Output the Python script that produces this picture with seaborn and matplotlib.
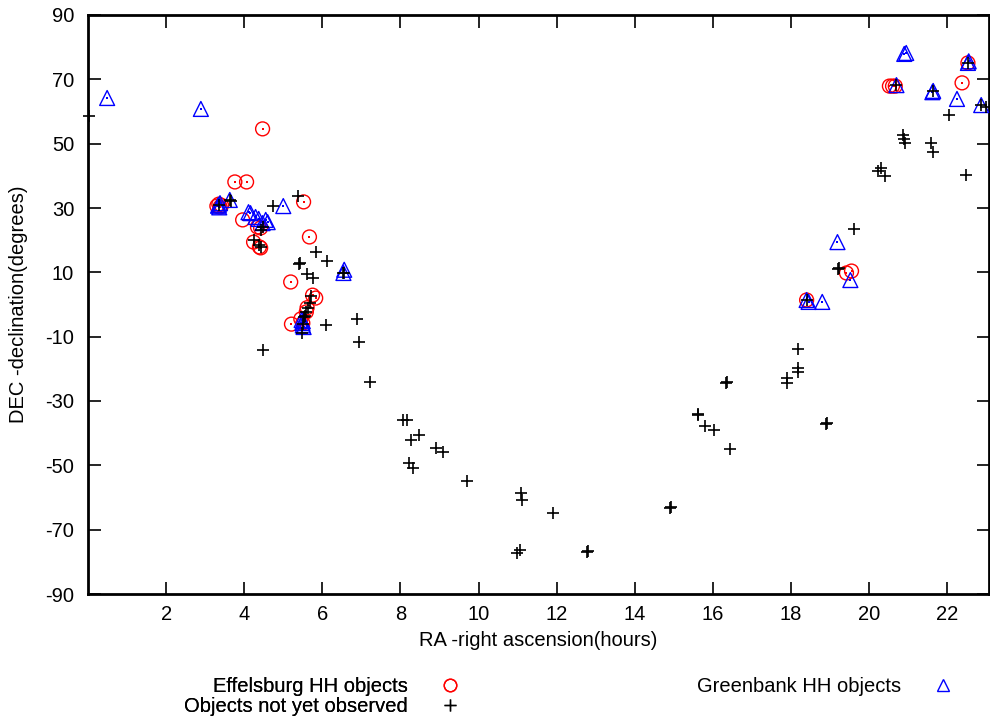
import numpy as np
import pandas as pd
import matplotlib
matplotlib.use("Agg")
import matplotlib.pyplot as plt
from matplotlib.lines import Line2D
import seaborn as sns

# ---- data (RA hours, DEC degrees) ----
eff_ra = [3.30, 3.38, 3.42, 3.35, 3.76, 4.06, 4.47, 5.52, 3.96, 4.34, 4.42, 4.24, 4.39, 4.42,
          5.67, 5.19, 5.75, 5.83, 5.61, 5.59, 5.21, 5.50, 5.45, 20.52, 20.60, 20.67, 22.38,
          22.53, 19.42, 19.55, 18.40]
eff_dec = [30.6, 30.3, 30.8, 31.2, 38.1, 38.1, 54.6, 31.9, 26.3, 24.1, 23.8, 19.4, 17.9, 17.6,
           21.0, 7.0, 2.9, 2.0, -1.0, -2.3, -6.1, -5.8, -4.5, 67.9, 67.9, 67.9, 68.9,
           75.1, 9.8, 10.4, 1.4]

gb_ra = [0.49, 2.89, 3.35, 3.38, 3.33, 3.36, 3.63, 4.11, 4.16, 4.29, 4.37, 4.55, 4.60, 4.47,
         5.00, 6.54, 6.56, 5.49, 5.50, 5.47, 5.52, 5.50, 19.19, 19.52, 18.40, 18.45, 18.80,
         20.90, 20.95, 20.70, 21.64, 21.62, 22.25, 22.53, 22.55, 22.87]
gb_dec = [64.2, 60.8, 31.0, 31.5, 30.7, 30.2, 32.5, 28.7, 28.4, 27.2, 26.6, 26.3, 25.6, 25.3,
          30.6, 9.8, 10.8, -5.8, -6.5, -4.8, -7.0, -5.2, 19.4, 7.6, 1.4, 0.8, 0.8,
          77.9, 78.2, 68.2, 66.4, 66.0, 63.9, 75.1, 75.6, 62.0]

new_ra = [0.02, 3.65, 3.35, 4.73, 5.37, 4.42, 4.24, 4.39, 4.42, 5.85, 6.13, 5.42, 5.40, 5.62,
          5.75, 6.56, 5.72, 5.68, 5.64, 5.59, 5.55, 5.49, 6.10, 6.90, 6.95, 4.47, 7.23, 8.07,
          8.18, 8.28, 8.48, 8.23, 8.33, 8.92, 9.10, 9.71, 11.09, 11.11, 11.91, 10.99, 11.06,
          12.77, 12.79, 14.90, 14.92, 15.61, 15.63, 15.80, 16.02, 16.33, 16.36, 16.43, 17.91,
          17.91, 18.17, 18.19, 18.19, 18.90, 18.92, 19.62, 19.21, 19.23, 18.40, 20.87, 20.92,
          20.90, 21.59, 21.64, 20.31, 20.23, 20.41, 22.48, 22.05, 20.70, 21.64, 22.53, 22.87,
          23.00, 3.63, 4.47, 6.54, 5.50, 5.52]
new_dec = [58.6, 32.2, 31.0, 30.6, 33.7, 23.2, 20.0, 18.5, 18.0, 16.3, 13.5, 12.9, 12.6, 9.5,
           8.2, 9.8, 2.6, 0.4, -1.1, -2.3, -3.5, -8.9, -6.4, -4.5, -11.7, -14.1, -24.1, -35.9,
           -35.9, -42.1, -40.6, -49.3, -50.8, -44.6, -45.9, -54.9, -58.6, -60.8, -64.8, -77.2, -76.3,
           -76.9, -76.6, -63.3, -63.0, -34.3, -34.0, -37.8, -39.0, -24.4, -24.0, -44.9, -22.8,
           -24.4, -19.7, -21.0, -13.8, -37.1, -36.8, 23.5, 11.0, 11.2, 1.4, 52.7, 50.2,
           51.5, 50.2, 47.4, 42.4, 41.5, 39.9, 40.3, 58.9, 68.2, 66.4, 75.1, 62.0,
           61.4, 32.5, 24.0, 9.8, -6.0, -4.0]

labels = ["Effelsburg HH objects", "Greenbank HH objects", "Objects not yet observed"]
x_ticks = [2, 4, 6, 8, 10, 12, 14, 16, 18, 20, 22]
y_ticks = [-90, -70, -50, -30, -10, 10, 30, 50, 70, 90]

eff = pd.DataFrame({"ra": eff_ra, "dec": eff_dec})
gb = pd.DataFrame({"ra": gb_ra, "dec": gb_dec})
new = pd.DataFrame({"ra": new_ra, "dec": new_dec})

sns.set_theme(style="white")
plt.rcParams["font.family"] = ["Liberation Sans", "DejaVu Sans"]
plt.rcParams["text.color"] = "black"
plt.rcParams["axes.labelcolor"] = "black"
plt.rcParams["xtick.color"] = "black"
plt.rcParams["ytick.color"] = "black"
FS = 14.5

fig = plt.figure(figsize=(9.9, 7.22), dpi=100)
ax = fig.add_axes([88 / 990, 1 - 594 / 722, 1 - 88 / 990 - 0.001, (594 - 15) / 722])

sns.scatterplot(data=eff, x="ra", y="dec", ax=ax, marker="o", s=100,
                facecolors="none", edgecolor="#ff0000", linewidth=1.0, clip_on=False, zorder=3)
sns.scatterplot(data=eff, x="ra", y="dec", ax=ax, marker="s", s=1.5,
                color="#ff0000", linewidth=0, clip_on=False, zorder=3)
sns.scatterplot(data=gb, x="ra", y="dec", ax=ax, marker="^", s=115,
                facecolors="none", edgecolor="#0000ff", linewidth=1.0, clip_on=False, zorder=4)
sns.scatterplot(data=gb, x="ra", y="dec", ax=ax, marker="s", s=1.5,
                color="#0000ff", linewidth=0, clip_on=False, zorder=4)
sns.scatterplot(data=new, x="ra", y="dec", ax=ax, marker="+", s=80,
                color="black", linewidth=1.2, clip_on=False, zorder=5)

ax.set_xlim(0, 23.07)
ax.set_ylim(-90, 90)
ax.set_xticks(x_ticks)
ax.set_yticks(y_ticks)
ax.set_xticklabels([str(t) for t in x_ticks], fontsize=FS)
ax.set_yticklabels([str(t) for t in y_ticks], fontsize=FS)
ax.tick_params(direction="in", length=9, width=1.2, top=True, right=True,
               bottom=True, left=True, pad=8, colors="black")
ax.tick_params(axis="y", pad=10)
for sp in ax.spines.values():
    sp.set_linewidth(2.0)
    sp.set_color("black")
ax.set_xlabel("RA -right ascension(hours)", fontsize=FS, labelpad=5, color="black")
ax.set_ylabel("DEC -declination(degrees)", fontsize=FS, labelpad=12, color="black")

h_eff = Line2D([], [], ls="none", marker="o", ms=9, mfc="none", mec="#ff0000", mew=1.0)
h_gb = Line2D([], [], ls="none", marker="^", ms=9, mfc="none", mec="#0000ff", mew=1.0)
h_new = Line2D([], [], ls="none", marker="+", ms=8, color="black", mew=1.0)

leg1 = fig.legend([h_eff, h_new], [labels[0], labels[2]], loc="upper right",
                  bbox_to_anchor=(460 / 990, 1 - 677 / 722), markerfirst=False, frameon=False,
                  fontsize=FS, handlelength=1.0, handletextpad=1.6, labelspacing=0.05,
                  borderpad=0, borderaxespad=0, labelcolor="black")
fig.add_artist(leg1)
fig.legend([h_gb], [labels[1]], loc="upper right",
           bbox_to_anchor=(953 / 990, 1 - 677 / 722), markerfirst=False, frameon=False,
           fontsize=FS, handlelength=1.0, handletextpad=1.6, labelspacing=0.05,
           borderpad=0, borderaxespad=0, labelcolor="black")

fig.savefig("out.png", dpi=100)
